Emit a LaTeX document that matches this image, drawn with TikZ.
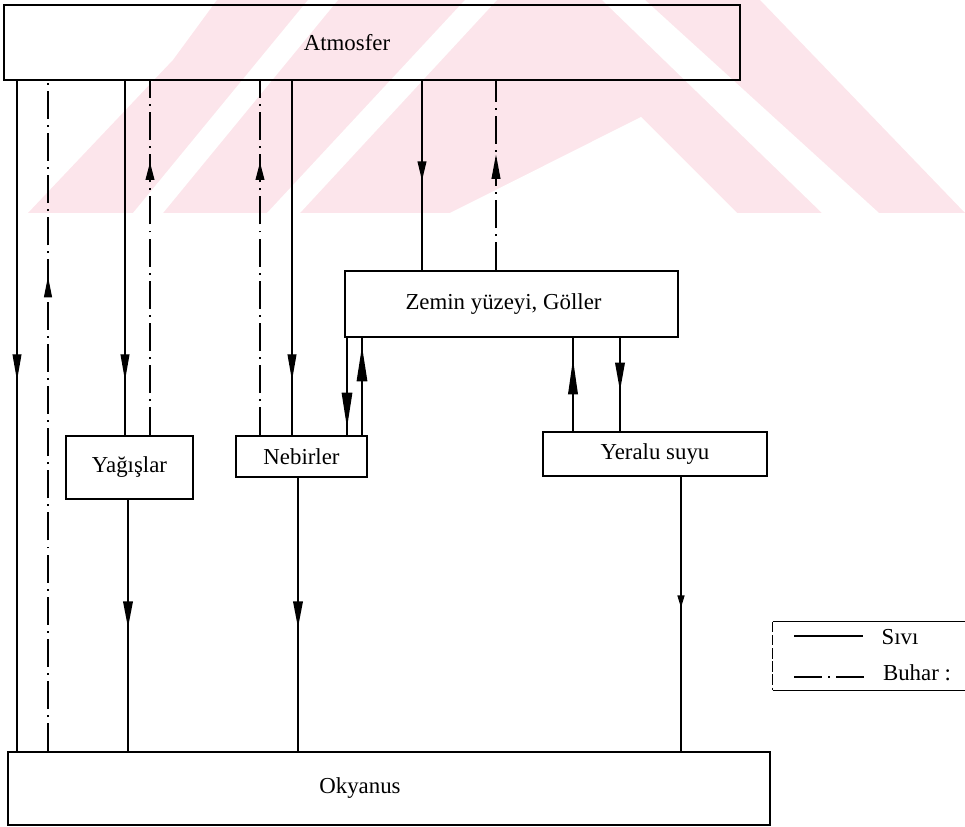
\documentclass[tikz,border=0pt]{standalone}
\usepackage{fontspec}
\setmainfont{Liberation Serif}
\usetikzlibrary{arrows.meta,decorations.markings}
\definecolor{wmpink}{RGB}{252,229,235}
\tikzset{
  box/.style={draw,line width=0.8pt,inner sep=0pt,font=\fontsize{13}{15}\selectfont},
  sivi/.style={line width=0.8pt},
  buhar/.style={line width=0.8pt,dash pattern=on 16pt off 3.5pt on 1pt off 3.5pt},
  tipat/.style n args={3}{postaction={decorate},decoration={markings,mark=at position #1 with {\arrow{Triangle[length=#2,width=#3]}}}}
}

\begin{document}
\begin{tikzpicture}[x=0.02cm,y=-0.02cm]
  \useasboundingbox (0,0) rectangle (965,827);
  \clip (0,0) rectangle (965,827);
  \fill[wmpink] (28,213) -- (965,213) -- (760,0) -- (217,0) -- (173,60) -- cycle;
  \fill[white] (133,213) -- (163,213) -- (338,0) -- (308,0) -- cycle;
  \fill[white] (267,213) -- (300,213) -- (497,0) -- (465,0) -- cycle;
  \fill[white] (602,0) -- (645,0) -- (879,213) -- (822,213) -- cycle;
  \fill[white] (450,213) -- (641,117) -- (737,213) -- cycle;

  \node[box,minimum width=14.72cm,minimum height=1.5cm] (atm) at (372,42.5) {\hspace*{-1cm}Atmosfer};
  \node[box,minimum width=6.66cm,minimum height=1.32cm] (zem) at (511.5,304) {\hspace*{-0.32cm}Zemin yüzeyi, Göller};
  \node[box,minimum width=2.54cm,minimum height=1.26cm] (yag) at (129.5,467.5) {Yağışlar};
  \node[box,minimum width=2.62cm,minimum height=0.82cm] (neh) at (301.5,456.5) {Nebirler};
  \node[box,minimum width=4.48cm,minimum height=0.88cm] (yer) at (655,454) {Yeralu suyu};
  \node[box,minimum width=15.24cm,minimum height=1.46cm] (oky) at (389,788.5) {\hspace*{-1.16cm}Okyanus};

  \path (17,0) coordinate (xa) (48,0) coordinate (xb) (125,0) coordinate (xc)
        (150,0) coordinate (xd) (128,0) coordinate (xe) (260,0) coordinate (xf)
        (292,0) coordinate (xg) (298,0) coordinate (xh) (347,0) coordinate (xi)
        (362,0) coordinate (xj) (422,0) coordinate (xk) (496,0) coordinate (xl)
        (573,0) coordinate (xm) (620,0) coordinate (xn) (681,0) coordinate (xo);

  \draw[sivi,tipat={6cm}{15pt}{5pt}] (atm.south -| xa) -- (oky.north -| xa);
  \draw[buhar,tipat={9.5cm}{12pt}{4.5pt}] (oky.north -| xb) -- (atm.south -| xb);
  \draw[sivi,tipat={6cm}{15pt}{5pt}] (atm.south -| xc) -- (yag.north -| xc);
  \draw[buhar,tipat={5.46cm}{10pt}{5pt}] (yag.north -| xd) -- (atm.south -| xd);
  \draw[sivi,tipat={2.56cm}{15pt}{5.5pt}] (yag.south -| xe) -- (oky.north -| xe);
  \draw[buhar,tipat={5.46cm}{10pt}{5pt}] (neh.north -| xf) -- (atm.south -| xf);
  \draw[sivi,tipat={6cm}{15pt}{5pt}] (atm.south -| xg) -- (neh.north -| xg);
  \draw[sivi,tipat={3cm}{15pt}{5.5pt}] (neh.south -| xh) -- (oky.north -| xh);
  \draw[sivi,tipat={1.8cm}{20pt}{6pt}] (zem.south -| xi) -- (neh.north -| xi);
  \draw[sivi,tipat={1.78cm}{20pt}{6pt}] (neh.north -| xj) -- (zem.south -| xj);
  \draw[sivi,tipat={2cm}{11pt}{5pt}] (atm.south -| xk) -- (zem.north -| xk);
  \draw[buhar,tipat={2.32cm}{14pt}{5pt}] (zem.north -| xl) -- (atm.south -| xl);
  \draw[sivi,tipat={1.44cm}{20pt}{5.5pt}] (yer.north -| xm) -- (zem.south -| xm);
  \draw[sivi,tipat={1.06cm}{16pt}{5.5pt}] (zem.south -| xn) -- (yer.north -| xn);
  \draw[sivi,tipat={2.62cm}{7pt}{4pt}] (yer.south -| xo) -- (oky.north -| xo);

  \node[minimum width=4.4cm,minimum height=1.36cm] (leg) at (883,656) {};
  \draw[line width=0.8pt] (leg.north east) -- (leg.north west);
  \draw[line width=0.8pt,dash pattern=on 6pt off 1.5pt] (leg.north west) -- (leg.south west);
  \draw[line width=0.8pt] (leg.south west) -- (leg.south east);
  \node[font=\fontsize{13}{15}\selectfont] (sivitxt) at (900,637) {Sıvı};
  \node[font=\fontsize{13}{15}\selectfont] (buhartxt) at (917,673) {Buhar :};
  \path (794,636) coordinate (sa) (863,636) coordinate (sb)
        (794,677) coordinate (ba) (866,677) coordinate (bb);
  \draw[sivi] (sa) -- (sb);
  \draw[buhar] (ba) -- (bb);
\end{tikzpicture}
\end{document}
